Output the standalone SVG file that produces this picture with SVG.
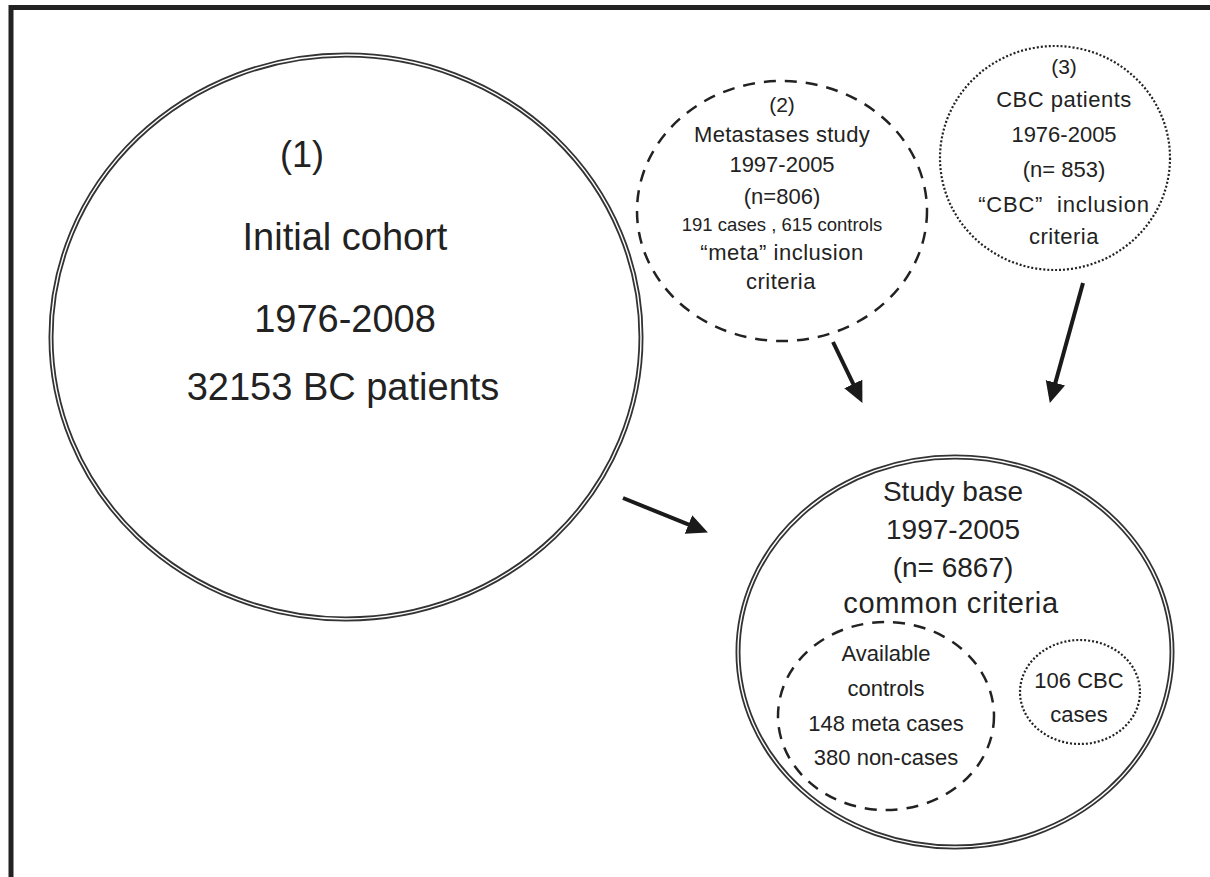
<svg xmlns="http://www.w3.org/2000/svg" width="1210" height="877" viewBox="0 0 1210 877">
<defs>
<style>
.t{font-family:"Liberation Sans",Arial,sans-serif;fill:#222;text-anchor:middle}
.dbl-o{fill:none;stroke:#333;stroke-width:5}
.dbl-i{fill:none;stroke:#fff;stroke-width:1.4}
.dash{fill:none;stroke:#222;stroke-width:2.5;stroke-dasharray:12 9}
.dot{fill:none;stroke:#222;stroke-width:2.2;stroke-dasharray:2 2}
.conn{fill:none;stroke:#1a1a1a;stroke-width:4;marker-end:url(#ah)}
</style>
<marker id="ah" markerUnits="userSpaceOnUse" markerWidth="24" markerHeight="24" refX="9" refY="10" orient="auto" viewBox="0 0 24 24">
<path d="M0,0 L21,10 L0,20 z" fill="#1a1a1a"/>
</marker>
</defs>
<rect width="1210" height="877" fill="#fff"/>
<path d="M11,877 V7.5 H1210" fill="none" stroke="#222" stroke-width="5"/>

<g id="node1">
<ellipse class="dbl-o" cx="346" cy="337" rx="295" ry="282"/>
<ellipse class="dbl-i" cx="346" cy="337" rx="295" ry="282"/>
<text class="t" x="302" y="167" font-size="36">(1)</text>
<text class="t" x="345" y="250" font-size="38">Initial cohort</text>
<text class="t" x="345" y="332" font-size="38">1976-2008</text>
<text class="t" x="343" y="400" font-size="38">32153 BC patients</text>
</g>

<g id="node2">
<ellipse class="dash" cx="782" cy="211" rx="145" ry="130"/>
<text class="t" x="782" y="112" font-size="21">(2)</text>
<text class="t" x="782" y="142" font-size="22" letter-spacing="0.3">Metastases study</text>
<text class="t" x="782" y="172" font-size="22">1997-2005</text>
<text class="t" x="782" y="204" font-size="22">(n=806)</text>
<text class="t" x="782" y="231" font-size="18.5">191 cases , 615 controls</text>
<text class="t" x="782" y="260" font-size="22" letter-spacing="0.5">“meta” inclusion</text>
<text class="t" x="781" y="289" font-size="22" letter-spacing="0.5">criteria</text>
</g>

<g id="node3">
<ellipse class="dot" cx="1055" cy="158" rx="115" ry="112"/>
<text class="t" x="1064" y="74" font-size="21">(3)</text>
<text class="t" x="1064" y="107" font-size="22" letter-spacing="0.5">CBC patients</text>
<text class="t" x="1064" y="142" font-size="22">1976-2005</text>
<text class="t" x="1064" y="177" font-size="22">(n= 853)</text>
<text class="t" x="1064" y="212" font-size="22" letter-spacing="0.8" xml:space="preserve">“CBC”  inclusion</text>
<text class="t" x="1064" y="244" font-size="22" letter-spacing="0.5">criteria</text>
</g>

<g id="node4">
<ellipse class="dbl-o" cx="955" cy="652" rx="217" ry="195"/>
<ellipse class="dbl-i" cx="955" cy="652" rx="217" ry="195"/>
<text class="t" x="953" y="501" font-size="28">Study base</text>
<text class="t" x="953" y="539" font-size="28">1997-2005</text>
<text class="t" x="953" y="577" font-size="28">(n= 6867)</text>
<text class="t" x="951" y="613" font-size="29" letter-spacing="0.6">common criteria</text>
</g>

<g id="node5">
<ellipse class="dash" cx="886" cy="716" rx="108" ry="94"/>
<text class="t" x="886" y="661" font-size="22">Available</text>
<text class="t" x="886" y="696" font-size="22">controls</text>
<text class="t" x="886" y="731" font-size="22">148 meta cases</text>
<text class="t" x="886" y="765" font-size="22">380 non-cases</text>
</g>

<g id="node6">
<ellipse class="dot" cx="1080" cy="692" rx="60" ry="52"/>
<text class="t" x="1079" y="688" font-size="22">106 CBC</text>
<text class="t" x="1079" y="722" font-size="22">cases</text>
</g>

<g id="connectors">
<line class="conn" x1="623" y1="498" x2="696.8" y2="527.9"/>
<line class="conn" x1="833" y1="342" x2="857.2" y2="392.1"/>
<line class="conn" x1="1083" y1="283" x2="1053" y2="391.4"/>
</g>
</svg>
